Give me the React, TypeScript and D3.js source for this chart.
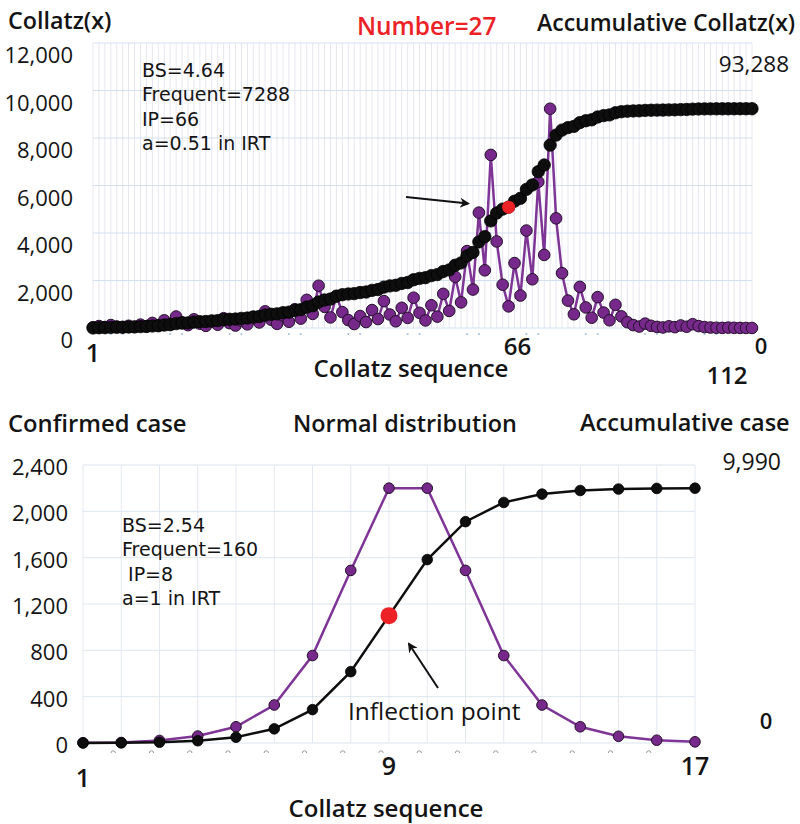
import React from 'react';
import * as d3 from 'd3';

// ---------- Top panel data (Collatz sequence of 27) ----------
const collatzValues = [
  27, 82, 41, 124, 62, 31, 94, 47, 142, 71, 214, 107, 322, 161, 484, 242, 121, 364, 182, 91,
  274, 137, 412, 206, 103, 310, 155, 466, 233, 700, 350, 175, 526, 263, 790, 395, 1186, 593, 1780, 890,
  445, 1336, 668, 334, 167, 502, 251, 754, 377, 1132, 566, 283, 850, 425, 1276, 638, 319, 958, 479, 1438,
  719, 2158, 1079, 3238, 1619, 4858, 2429, 7288, 3644, 1822, 911, 2734, 1367, 4102, 2051, 6154, 3077, 9232, 4616, 2308,
  1154, 577, 1732, 866, 433, 1300, 650, 325, 976, 488, 244, 122, 61, 184, 92, 46, 23, 70, 35, 106,
  53, 160, 80, 40, 20, 10, 5, 16, 8, 4, 2, 1,
];
const topLeftTicks = [0, 2000, 4000, 6000, 8000, 10000, 12000];
const topNotes = ['BS=4.64', 'Frequent=7288', 'IP=66', 'a=0.51 in IRT'];
const topIPIndex = 71;
const topIPLabel = '66';
const topRightMaxLabel = '93,288';
const topRightMinLabel = '0';
const topFirstLabel = '1';
const topLastLabel = '112';
const topTitleLeft = 'Collatz(x)';
const topTitleMid = 'Number=27';
const topTitleRight = 'Accumulative Collatz(x)';
const xTitle = 'Collatz sequence';

// ---------- Bottom panel data (normal distribution) ----------
const normalValues = [2, 4, 22, 60, 140, 328, 755, 1490, 2200, 2200, 1490, 755, 328, 140, 58, 24, 10];
const bottomLeftTicks = [0, 400, 800, 1200, 1600, 2000, 2400];
const bottomNotes = ['BS=2.54', 'Frequent=160', ' IP=8', 'a=1 in IRT'];
const bottomIPIndex = 9;
const bottomXLabels = [1, 9, 17];
const bottomRightMaxLabel = '9,990';
const bottomRightMinLabel = '0';
const bottomTitleLeft = 'Confirmed case';
const bottomTitleMid = 'Normal distribution';
const bottomTitleRight = 'Accumulative case';
const inflectionLabel = 'Inflection point';

const FONT = "'Open Sans', 'Noto Sans', 'DejaVu Sans', sans-serif";
const NOTE_FONT = "'DejaVu Sans', 'Open Sans', sans-serif";
const PURPLE_LINE = '#7e3596';
const PURPLE_FILL = '#76298a';
const DOT_STROKE = '#24102a';
const BLACK = '#0e0e0e';
const RED = '#ec2227';
const TEXT = '#141414';

const fmt = d3.format(',');

function TopPanel() {
  const n = collatzValues.length;
  const idx = collatzValues.map((_, i) => i + 1);
  const x = d3.scaleLinear().domain([1, n]).range([93, 752]);
  const yL = d3.scaleLinear().domain([0, 12000]).range([328, 43]);
  const cum = Array.from(d3.cumsum(collatzValues));
  const total = cum[cum.length - 1];
  const maxV = d3.max(collatzValues) as number;
  const yR = d3.scaleLinear().domain([0, (total * 12000) / maxV]).range([328, 43]);
  const line = d3
    .line<number>()
    .x((_, i) => x(idx[i]))
    .y((d) => yL(d));
  const tinyMarks: number[] = [];
  for (let k = 0; k <= 10; k++) {
    tinyMarks.push(4 + 10 * k, 6 + 10 * k);
  }
  return (
    <g>
      {/* grid */}
      {idx.map((i) => (
        <line key={'v' + i} x1={x(i)} x2={x(i)} y1={yL(12000)} y2={yL(0)} stroke="#e6e6f1" strokeWidth={1} />
      ))}
      {topLeftTicks.map((t) => (
        <line key={'h' + t} x1={x(1)} x2={x(n)} y1={yL(t)} y2={yL(t)} stroke="#d3e0ee" strokeWidth={1} />
      ))}
      {tinyMarks.map((i) => (
        <circle key={'tm' + i} cx={x(i)} cy={334} r={1.1} fill="#a9c2de" />
      ))}
      {/* tick labels */}
      {topLeftTicks.map((t) => (
        <text key={'tl' + t} x={73} y={yL(t) + 11} textAnchor="end" dominantBaseline="central" fontSize={22} fill={TEXT} fontFamily={FONT} fontWeight={500}>
          {fmt(t)}
        </text>
      ))}
      {/* series */}
      <path d={line(collatzValues) || ''} fill="none" stroke={PURPLE_LINE} strokeWidth={2.5} />
      {collatzValues.map((v, i) => (
        <circle key={'p' + i} cx={x(idx[i])} cy={yL(v)} r={5.8} fill={PURPLE_FILL} stroke={DOT_STROKE} strokeWidth={1} />
      ))}
      {cum.map((c, i) => (
        <circle key={'c' + i} cx={x(idx[i])} cy={yR(c)} r={6.2} fill={BLACK} stroke="#000" strokeWidth={0.8} />
      ))}
      <circle cx={x(topIPIndex)} cy={yR(cum[topIPIndex - 1])} r={6.5} fill={RED} />
      {/* arrow */}
      <line x1={406} y1={197} x2={468} y2={203.5} stroke="#111" strokeWidth={2} markerEnd="url(#arrowHead)" />
      {/* notes */}
      {topNotes.map((s, i) => (
        <text key={'n' + i} x={142} y={70 + i * 24.3} dominantBaseline="central" fontSize={19} fill={TEXT} fontFamily={NOTE_FONT} xmlSpace="preserve">
          {s}
        </text>
      ))}
      {/* titles */}
      <text x={8} y={20} dominantBaseline="central" fontSize={23.3} fill={TEXT} fontFamily={FONT} fontWeight={600}>
        {topTitleLeft}
      </text>
      <text x={357} y={25} dominantBaseline="central" fontSize={24.4} fill={RED} fontFamily={FONT} fontWeight={600}>
        {topTitleMid}
      </text>
      <text x={537} y={22} dominantBaseline="central" fontSize={23} fill={TEXT} fontFamily={FONT} fontWeight={600}>
        {topTitleRight}
      </text>
      <text x={789} y={63} textAnchor="end" dominantBaseline="central" fontSize={22.5} fill={TEXT} fontFamily={FONT} fontWeight={500}>
        {topRightMaxLabel}
      </text>
      <text x={761} y={345} textAnchor="middle" dominantBaseline="central" fontSize={22} fill={TEXT} fontFamily={FONT} fontWeight={600}>
        {topRightMinLabel}
      </text>
      <text x={x(1)} y={352} textAnchor="middle" dominantBaseline="central" fontSize={25} fill={TEXT} fontFamily={FONT} fontWeight={600}>
        {topFirstLabel}
      </text>
      <text x={x(topIPIndex) + 9} y={345} textAnchor="middle" dominantBaseline="central" fontSize={24} fill={TEXT} fontFamily={FONT} fontWeight={600}>
        {topIPLabel}
      </text>
      <text x={411} y={367} textAnchor="middle" dominantBaseline="central" fontSize={24} fill={TEXT} fontFamily={FONT} fontWeight={600}>
        {xTitle}
      </text>
      <text x={727} y={374} textAnchor="middle" dominantBaseline="central" fontSize={24} fill={TEXT} fontFamily={FONT} fontWeight={600}>
        {topLastLabel}
      </text>
    </g>
  );
}

function BottomPanel() {
  const n = normalValues.length;
  const idx = normalValues.map((_, i) => i + 1);
  const x = d3.scaleLinear().domain([1, n]).range([83, 695]);
  const yL = d3.scaleLinear().domain([0, 2400]).range([743, 465]);
  const cum = Array.from(d3.cumsum(normalValues));
  const total = cum[cum.length - 1];
  const maxV = d3.max(normalValues) as number;
  const yR = d3.scaleLinear().domain([0, (total * 2400) / maxV]).range([743, 465]);
  const linePurple = d3
    .line<number>()
    .x((_, i) => x(idx[i]))
    .y((d) => yL(d));
  const lineBlack = d3
    .line<number>()
    .x((_, i) => x(idx[i]))
    .y((d) => yR(d));
  const markIdx = idx.filter((i) => i >= 2 && i <= 16);
  return (
    <g>
      {idx.map((i) => (
        <line key={'v' + i} x1={x(i)} x2={x(i)} y1={yL(2400)} y2={yL(0)} stroke="#e3e8f0" strokeWidth={1} />
      ))}
      {bottomLeftTicks.map((t) => (
        <line key={'h' + t} x1={x(1)} x2={x(n)} y1={yL(t)} y2={yL(t)} stroke="#dde5ee" strokeWidth={1} />
      ))}
      {markIdx.map((i) => (
        <path
          key={'m' + i}
          d={`M${x(i) - 8 - 2.2},${753} A2.2,2.2 0 0 1 ${x(i) - 8 + 2.2},${753}`}
          fill="none"
          stroke="#9a9a9a"
          strokeWidth={1}
        />
      ))}
      {bottomLeftTicks.map((t) => (
        <text key={'tl' + t} x={68} y={yL(t) + 1} textAnchor="end" dominantBaseline="central" fontSize={22} fill={TEXT} fontFamily={FONT} fontWeight={500}>
          {fmt(t)}
        </text>
      ))}
      <path d={linePurple(normalValues) || ''} fill="none" stroke={PURPLE_LINE} strokeWidth={2.5} />
      {normalValues.map((v, i) => (
        <circle key={'p' + i} cx={x(idx[i])} cy={yL(v)} r={5.3} fill={PURPLE_FILL} stroke={DOT_STROKE} strokeWidth={1} />
      ))}
      <path d={lineBlack(cum) || ''} fill="none" stroke={BLACK} strokeWidth={2.5} />
      {cum.map((c, i) => (
        <circle key={'c' + i} cx={x(idx[i])} cy={yR(c)} r={5.3} fill={BLACK} stroke="#000" strokeWidth={0.8} />
      ))}
      <circle cx={x(bottomIPIndex)} cy={yR(cum[bottomIPIndex - 1])} r={8.5} fill={RED} />
      <line x1={438} y1={688} x2={409} y2={644} stroke="#111" strokeWidth={2} markerEnd="url(#arrowHead)" />
      {bottomNotes.map((s, i) => (
        <text key={'n' + i} x={122} y={525 + i * 24.3} dominantBaseline="central" fontSize={19} fill={TEXT} fontFamily={NOTE_FONT} xmlSpace="preserve">
          {s}
        </text>
      ))}
      <text x={348} y={710} dominantBaseline="central" fontSize={24.5} fill={TEXT} fontFamily={FONT} fontWeight={500}>
        {inflectionLabel}
      </text>
      <text x={8} y={423} dominantBaseline="central" fontSize={23.8} fill={TEXT} fontFamily={FONT} fontWeight={600}>
        {bottomTitleLeft}
      </text>
      <text x={293} y={423} dominantBaseline="central" fontSize={23.4} fill={TEXT} fontFamily={FONT} fontWeight={600}>
        {bottomTitleMid}
      </text>
      <text x={580} y={422} dominantBaseline="central" fontSize={23.5} fill={TEXT} fontFamily={FONT} fontWeight={600}>
        {bottomTitleRight}
      </text>
      <text x={781} y={461} textAnchor="end" dominantBaseline="central" fontSize={23} fill={TEXT} fontFamily={FONT} fontWeight={500}>
        {bottomRightMaxLabel}
      </text>
      <text x={766} y={720} textAnchor="middle" dominantBaseline="central" fontSize={22} fill={TEXT} fontFamily={FONT} fontWeight={600}>
        {bottomRightMinLabel}
      </text>
      {bottomXLabels.map((l) => (
        <text
          key={'xl' + l}
          x={x(l)}
          y={l === 1 ? 777 : 765}
          textAnchor="middle"
          dominantBaseline="central"
          fontSize={25}
          fill={TEXT}
          fontFamily={FONT}
          fontWeight={600}
        >
          {l}
        </text>
      ))}
      <text x={386} y={807} textAnchor="middle" dominantBaseline="central" fontSize={24} fill={TEXT} fontFamily={FONT} fontWeight={600}>
        {xTitle}
      </text>
    </g>
  );
}

export default function App() {
  return (
    <svg
      width={800}
      height={824}
      viewBox="0 0 800 824"
      style={{ position: 'absolute', left: 0, top: 0, background: '#fff' }}
    >
      <defs>
        <marker id="arrowHead" viewBox="0 0 10 10" refX={8} refY={5} markerWidth={5} markerHeight={5} orient="auto">
          <path d="M0,0 L10,5 L0,10 L3,5 Z" fill="#111" />
        </marker>
      </defs>
      <rect x={0} y={0} width={800} height={824} fill="#fff" />
      <TopPanel />
      <BottomPanel />
    </svg>
  );
}
